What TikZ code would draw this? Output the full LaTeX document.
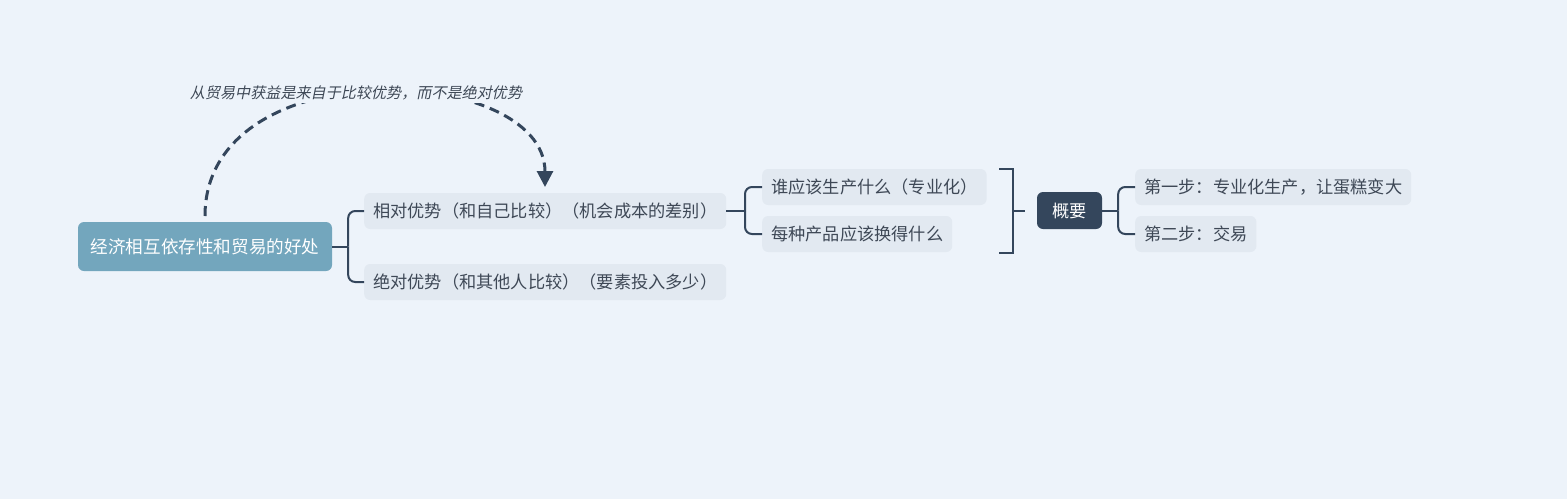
\documentclass[tikz,border=0pt]{standalone}
\usepackage{fontspec}
\setmainfont{Noto Sans CJK SC}
\newfontfamily\cjkslant[FakeSlant=0.2]{Noto Sans CJK SC}
\usetikzlibrary{arrows.meta}

\definecolor{bgcol}{RGB}{237,243,250}
\definecolor{rootcol}{RGB}{115,166,189}
\definecolor{subcol}{RGB}{226,233,241}
\definecolor{darkcol}{RGB}{52,70,92}
\definecolor{txtcol}{RGB}{62,72,86}

\tikzset{
  roottopic/.style={fill=rootcol, rounded corners=6pt, text=white, minimum width=254pt, minimum height=49pt, inner sep=0pt, font=\fontsize{17.6}{20}\selectfont},
  subtopic/.style={fill=subcol, rounded corners=6pt, text=txtcol, anchor=west, minimum height=36pt, inner xsep=9pt, inner ysep=0pt, font=\fontsize{17.2}{20}\selectfont},
  summarytopic/.style={fill=darkcol, rounded corners=6pt, text=white, minimum width=65pt, minimum height=37pt, inner sep=0pt, font=\fontsize{17.2}{20}\selectfont},
  branch/.style={draw=darkcol, line width=2pt, rounded corners=7pt},
  relline/.style={draw=darkcol, line width=3pt, dash pattern=on 10pt off 6pt, -{Triangle[width=16pt,length=16pt]}},
}

\begin{document}
\begin{tikzpicture}[x=1pt, y=-1pt]
\fill[bgcol] (0,0) rectangle (1567,499);
\useasboundingbox (0,0) rectangle (1567,499);

% main topic and its branches
\node[roottopic] (root) at (205,246.5) {经济相互依存性和贸易的好处};
\node[subtopic] (rel) at (364,211) {相对优势（和自己比较）（机会成本的差别）};
\node[subtopic] (abs) at (364,282) {绝对优势（和其他人比较）（要素投入多少）};

\draw[branch] (root.east) -- ++(16,0) coordinate (rj);
\draw[branch] (rj) |- (rel.west);
\draw[branch] (rj) |- (abs.west);

% second level
\node[subtopic] (who) at (762,187) {谁应该生产什么（专业化）};
\node[subtopic] (swap) at (762,234) {每种产品应该换得什么};

\draw[branch] (rel.east) -- (745,211) coordinate (gj);
\draw[branch] (gj) |- (who.west);
\draw[branch] (gj) |- (swap.west);

% summary
\coordinate (bt) at (999,169);
\coordinate (bb) at (999,253);
\draw[branch, rounded corners=0pt] (bt) -- (1013,169) -- (1013,253) -- (bb);
\draw[branch] (1013,211) -- (1025,211);
\node[summarytopic] (sum) at (1069.5,210.5) {概要};

\node[subtopic] (step1) at (1135,187) {第一步：专业化生产，让蛋糕变大};
\node[subtopic] (step2) at (1135,234) {第二步：交易};

\draw[branch] (sum.east) -- ++(16,0) coordinate (sj);
\draw[branch] (sj) |- (step1.west);
\draw[branch] (sj) |- (step2.west);

% relation
\coordinate (relstart) at (205,216);
\coordinate (relend) at (545,187);
\draw[relline] (relstart) .. controls (205,48) and (545,63) .. (relend);
\node[fill=bgcol, text=txtcol, inner sep=3pt, font=\cjkslant\fontsize{15.1}{17}\selectfont] (rellabel) at (356,93) {从贸易中获益是来自于比较优势，而不是绝对优势};
\end{tikzpicture}
\end{document}
